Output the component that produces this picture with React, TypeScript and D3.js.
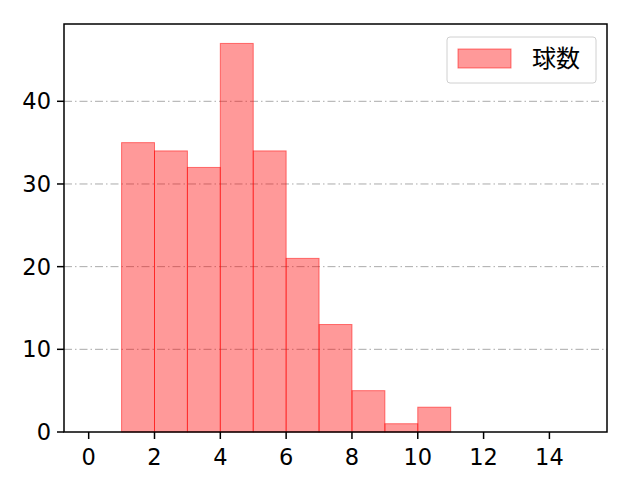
import React from 'react';
import * as d3 from 'd3';

// histogram bins (left edges) and counts
const binStarts = [1, 2, 3, 4, 5, 6, 7, 8, 9, 10];
const counts = [35, 34, 32, 47, 34, 21, 13, 5, 1, 3];
const xTicks = [0, 2, 4, 6, 8, 10, 12, 14];
const yTicks = [0, 10, 20, 30, 40];
const seriesLabel = '球数';

const W = 640;
const H = 480;
const margin = { left: 64, right: 33, top: 24, bottom: 48 };
const font = '"Noto Sans CJK JP", "DejaVu Sans", sans-serif';
const tickFont = '"DejaVu Sans", sans-serif';

const App = () => {
  const x = d3
    .scaleLinear()
    .domain([-0.75, 15.75])
    .range([margin.left, W - margin.right]);
  const y = d3
    .scaleLinear()
    .domain([0, 47 * 1.05])
    .range([H - margin.bottom, margin.top]);

  const [x0, x1] = x.range();
  const [y0, y1] = y.range();

  return (
    <svg
      width={W}
      height={H}
      style={{ position: 'absolute', left: 0, top: 0, background: '#fff' }}
      fontFamily={font}
    >
      {/* grid */}
      {yTicks
        .filter((t) => t > 0)
        .map((t) => (
          <line
            key={'g' + t}
            x1={x0}
            x2={x1}
            y1={y(t)}
            y2={y(t)}
            stroke="#aaaaaa"
            strokeWidth={1}
            strokeDasharray="8 3 1.5 3"
          />
        ))}

      {/* bars */}
      {binStarts.map((b, i) => (
        <rect
          key={b}
          x={x(b)}
          y={y(counts[i])}
          width={x(b + 1) - x(b)}
          height={y(0) - y(counts[i])}
          fill="rgba(255,0,0,0.4)"
          stroke="rgba(255,0,0,0.5)"
          strokeWidth={1}
        />
      ))}

      {/* spines */}
      <rect
        x={x0}
        y={y1}
        width={x1 - x0}
        height={y0 - y1}
        fill="none"
        stroke="#000"
        strokeWidth={1.5}
      />

      {/* x ticks */}
      {xTicks.map((t) => (
        <g key={'x' + t}>
          <line x1={x(t)} x2={x(t)} y1={y0} y2={y0 + 7} stroke="#000" strokeWidth={1.5} />
          <text
            x={x(t)}
            y={y0 + 33}
            textAnchor="middle"
            fontSize={22.5}
            fontFamily={tickFont}
            fill="#000"
          >
            {t}
          </text>
        </g>
      ))}

      {/* y ticks */}
      {yTicks.map((t) => (
        <g key={'y' + t}>
          <line x1={x0 - 7} x2={x0} y1={y(t)} y2={y(t)} stroke="#000" strokeWidth={1.5} />
          <text
            x={x0 - 13}
            y={y(t) + 8}
            textAnchor="end"
            fontSize={22.5}
            fontFamily={tickFont}
            fill="#000"
          >
            {t}
          </text>
        </g>
      ))}

      {/* legend */}
      <rect
        x={447}
        y={37}
        width={149}
        height={46}
        rx={3}
        fill="#fff"
        fillOpacity={0.8}
        stroke="#d0d0d0"
        strokeWidth={1}
      />
      <rect
        x={458}
        y={49}
        width={53}
        height={19}
        fill="rgba(255,0,0,0.4)"
        stroke="rgba(255,0,0,0.5)"
        strokeWidth={1}
      />
      <text x={532} y={67} fontSize={24} fill="#000">
        {seriesLabel}
      </text>
    </svg>
  );
};

export default App;
